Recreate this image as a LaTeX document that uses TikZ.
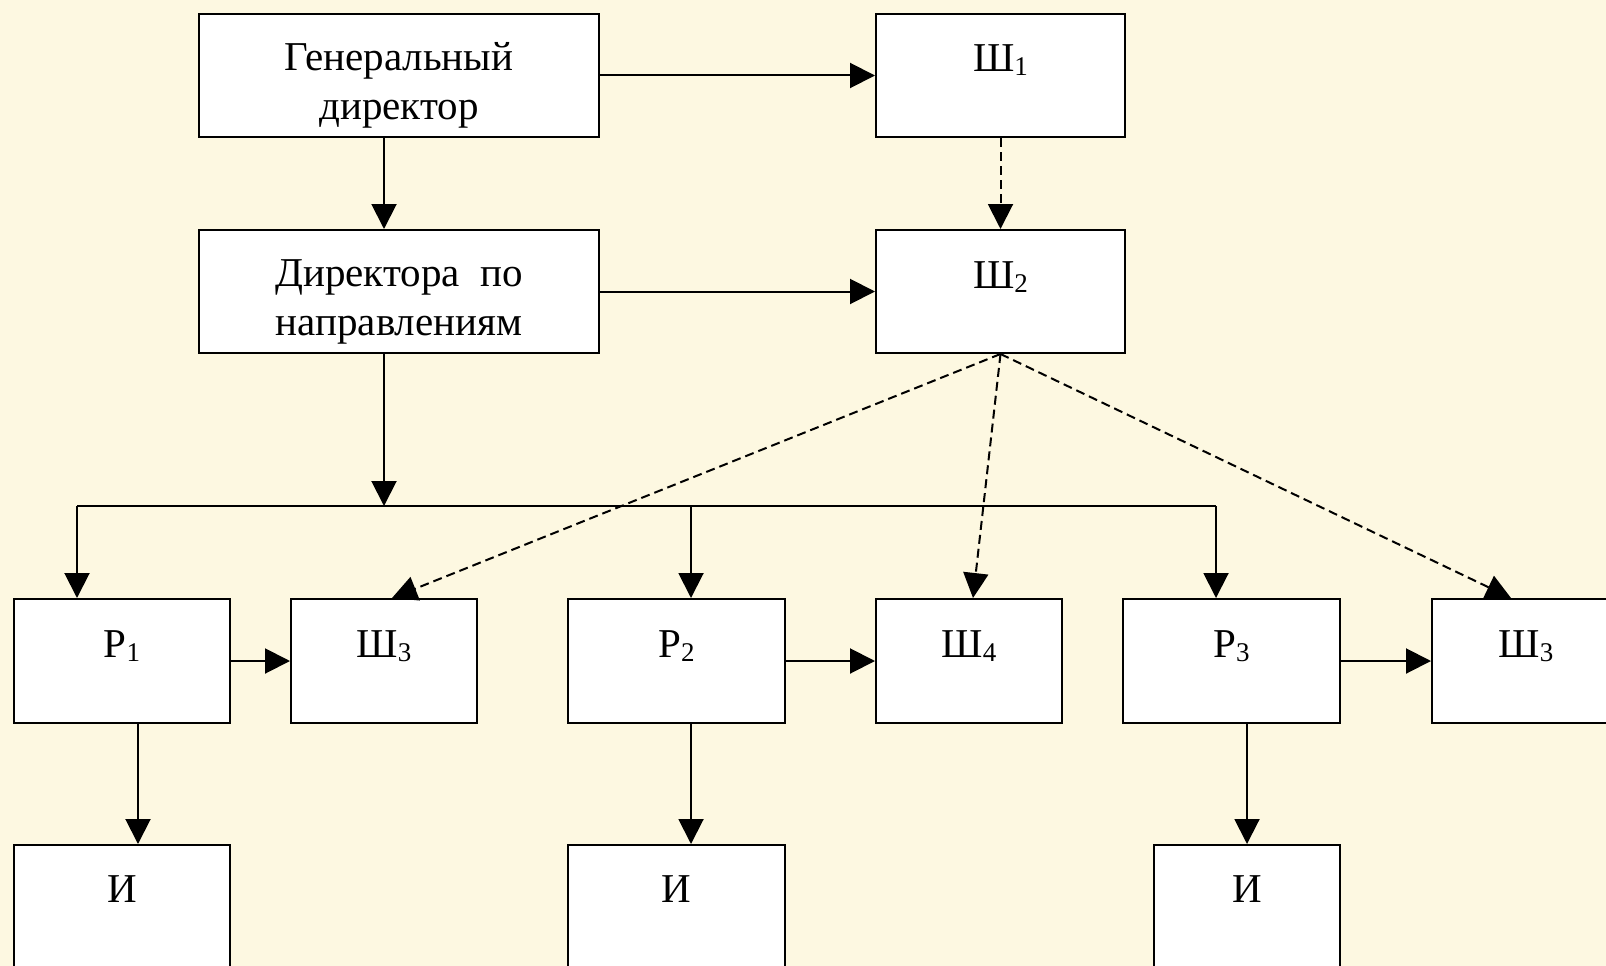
\documentclass[tikz,border=0pt]{standalone}
\usepackage{fontspec}
\setmainfont{Liberation Serif}
\usetikzlibrary{arrows.meta}
\definecolor{bg}{RGB}{253,248,225}
\newcommand{\sbs}[1]{\raisebox{-4pt}{\fontsize{27}{27}\selectfont #1}}
\newcommand{\topstrut}{\rule{0pt}{47pt}}
\begin{document}
\begin{tikzpicture}[x=1pt,y=-1pt,
  every node/.style={font=\fontsize{41}{47}\selectfont},
  two/.style={font=\fontsize{41}{49}\selectfont, align=center},
  box/.style={draw=black, line width=2pt, fill=white, inner sep=0pt},
  one/.style={text height=30pt, text depth=37pt},
  low/.style={text height=30pt, text depth=46pt},
  arr/.style={line width=2pt, -{Triangle[length=25pt,width=25pt]}},
  darr/.style={arr, dash pattern=on 9pt off 5pt}]
\fill[bg] (0,0) rectangle (1606,966);
\useasboundingbox (0,0) rectangle (1606,966);

% top rows
\node[box, two, minimum width=400pt, minimum height=123pt] (gen) at (399,75.5) {\topstrut Генеральный\\директор};
\node[box, one, minimum width=249pt, minimum height=123pt] (sh1) at (1000.5,75.5) {Ш\sbs{1}};
\node[box, two, minimum width=400pt, minimum height=123pt] (dir) at (399,291.5) {\topstrut Директора\ \ по\\направлениям};
\node[box, one, minimum width=249pt, minimum height=123pt] (sh2) at (1000.5,291.5) {Ш\sbs{2}};

% middle row
\node[box, one, minimum width=216pt, minimum height=124pt] (p1) at (122,661) {Р\sbs{1}};
\node[box, one, minimum width=186pt, minimum height=124pt] (sh3a) at (384,661) {Ш\sbs{3}};
\node[box, one, minimum width=217pt, minimum height=124pt] (p2) at (676.5,661) {Р\sbs{2}};
\node[box, one, minimum width=186pt, minimum height=124pt] (sh4) at (969,661) {Ш\sbs{4}};
\node[box, one, minimum width=217pt, minimum height=124pt] (p3) at (1231.5,661) {Р\sbs{3}};
\node[box, one, minimum width=188pt, minimum height=124pt] (sh3b) at (1526,661) {Ш\sbs{3}};

% bottom row
\node[box, low, minimum width=216pt, minimum height=130pt] (i1) at (122,910) {И};
\node[box, low, minimum width=217pt, minimum height=130pt] (i2) at (676.5,910) {И};
\node[box, low, minimum width=186pt, minimum height=130pt] (i3) at (1247,910) {И};

% helper coordinates
\coordinate (vx) at (384,0);
\coordinate (busL) at (77,506);
\coordinate (busM) at (691,506);
\coordinate (busR) at (1216,506);
\coordinate (busC) at (384,506);
\coordinate (d1) at (138,0);
\coordinate (d2) at (691,0);
\coordinate (d3) at (1247,0);
\coordinate (t3a) at (392,0);
\coordinate (t4) at (973,0);
\coordinate (t3b) at (1511,0);

% solid connectors
\draw[arr] (gen) -- (sh1);
\draw[arr] (dir) -- (sh2);
\draw[arr] (gen.south -| vx) -- (dir.north -| vx);
\draw[arr] (dir.south -| vx) -- (busC);
\draw[line width=2pt] (busL) -- (busR);
\draw[arr] (busL) -- (p1.north -| busL);
\draw[arr] (busM) -- (p2.north -| busM);
\draw[arr] (busR) -- (p3.north -| busR);
\draw[arr] (p1) -- (sh3a);
\draw[arr] (p2) -- (sh4);
\draw[arr] (p3) -- (sh3b);
\draw[arr] (p1.south -| d1) -- (i1.north -| d1);
\draw[arr] (p2.south -| d2) -- (i2.north -| d2);
\draw[arr] (p3.south -| d3) -- (i3.north -| d3);

% dashed connectors
\draw[darr] (sh1) -- (sh2);
\draw[darr] (sh2.south) -- (sh3a.north -| t3a);
\draw[darr] (sh2.south) -- (sh4.north -| t4);
\draw[darr] (sh2.south) -- (sh3b.north -| t3b);
\end{tikzpicture}
\end{document}
